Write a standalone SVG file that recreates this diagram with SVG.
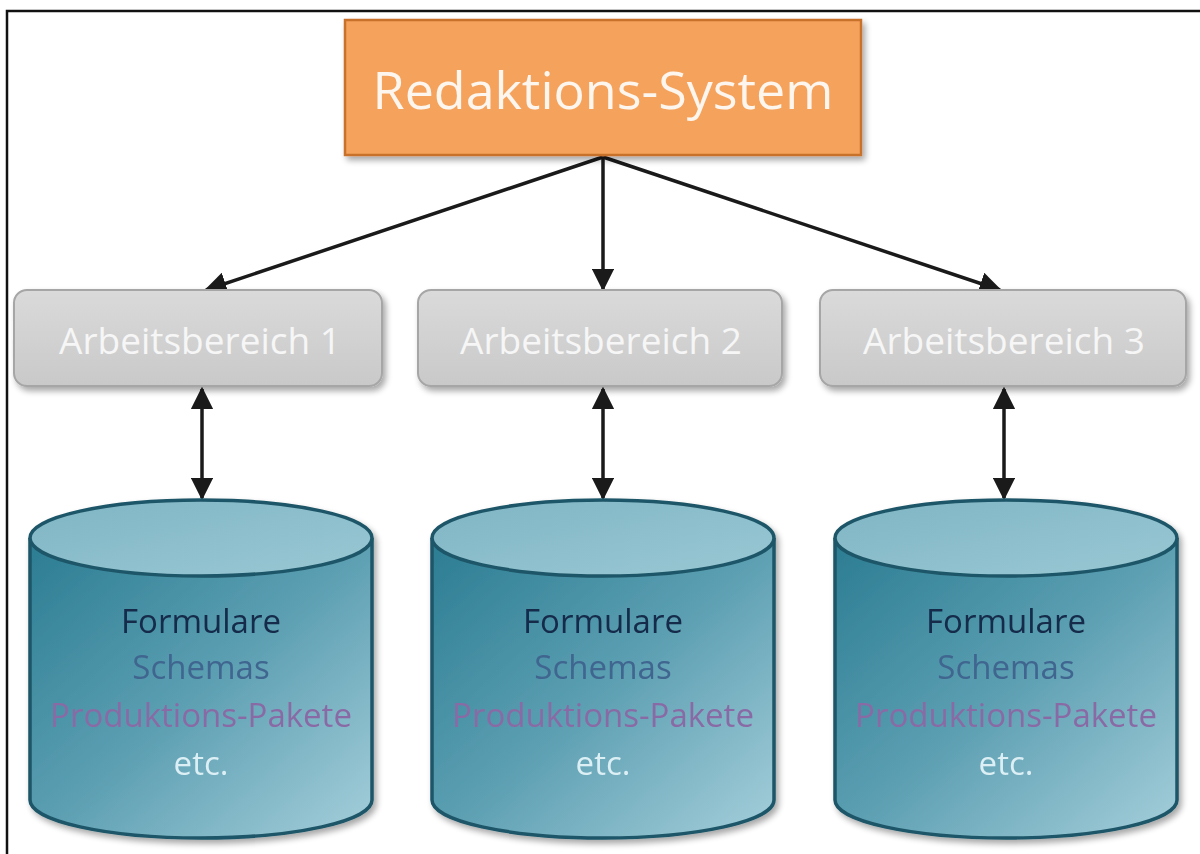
<svg xmlns="http://www.w3.org/2000/svg" width="1200" height="854" viewBox="0 0 1200 854">
<defs>
<style>
.lbl{font-family:"Open Sans","Liberation Sans",sans-serif;text-anchor:middle}
.gbox{fill:url(#gray);stroke:#a6a6a6;stroke-width:2}
.cyl{stroke:#1e5667;stroke-width:3.5}
.con{stroke:#1a1a1a;stroke-width:3.5;fill:none}
.t1{fill:#132a4a;font-size:33px}
.t2{fill:#3f6690;font-size:33px}
.t3{fill:#8a6ba5;font-size:33px}
.t4{fill:#dceff5;font-size:33px}
</style>
<linearGradient id="gray" x1="0" y1="0" x2="0" y2="1">
<stop offset="0" stop-color="#dadada"/><stop offset="1" stop-color="#c9c9c9"/>
</linearGradient>
<linearGradient id="body" x1="0" y1="0" x2="1" y2="1">
<stop offset="0" stop-color="#2b7c92"/><stop offset="0.5" stop-color="#5c9fb2"/><stop offset="1" stop-color="#a6cfdb"/>
</linearGradient>
<linearGradient id="top" x1="0" y1="0" x2="1" y2="1">
<stop offset="0" stop-color="#7fb5c4"/><stop offset="1" stop-color="#9ac8d4"/>
</linearGradient>
<filter id="sh" x="-10%" y="-10%" width="130%" height="140%">
<feGaussianBlur in="SourceAlpha" stdDeviation="3"/>
<feOffset dx="3" dy="4"/>
<feComponentTransfer><feFuncA type="linear" slope="0.35"/></feComponentTransfer>
<feMerge><feMergeNode/><feMergeNode in="SourceGraphic"/></feMerge>
</filter>
<marker id="ahb" viewBox="0 0 10 10" refX="9" refY="5" markerWidth="6.5" markerHeight="6.5" orient="auto-start-reverse">
<path d="M0,0 L10,5 L0,10 z" fill="#1a1a1a"/>
</marker>
</defs>
<rect width="1200" height="854" fill="#ffffff"/>
<path d="M7,854 V11 H1200" fill="none" stroke="#111" stroke-width="2.5"/>

<g id="connectors">
<line class="con" x1="603" y1="157" x2="206" y2="290" marker-end="url(#ahb)"/>
<line class="con" x1="603" y1="157" x2="603" y2="289" marker-end="url(#ahb)"/>
<line class="con" x1="603" y1="157" x2="1000" y2="290" marker-end="url(#ahb)"/>
<line class="con" x1="202" y1="389" x2="202" y2="498" marker-start="url(#ahb)" marker-end="url(#ahb)"/>
<line class="con" x1="603" y1="389" x2="603" y2="498" marker-start="url(#ahb)" marker-end="url(#ahb)"/>
<line class="con" x1="1004" y1="389" x2="1004" y2="498" marker-start="url(#ahb)" marker-end="url(#ahb)"/>
</g>

<g id="redaktions-system">
<rect x="345" y="20" width="516" height="135" fill="#f5a25c" stroke="#c7712c" stroke-width="2.5" filter="url(#sh)"/>
<text class="lbl" x="603" y="109" font-size="52" fill="#fdf6ee">Redaktions-System</text>
</g>

<g id="arbeitsbereich-1">
<rect class="gbox" x="14" y="290" width="368" height="96" rx="13" filter="url(#sh)"/>
<text class="lbl" x="200" y="354" font-size="37" fill="#f6f6f6">Arbeitsbereich 1</text>
</g>
<g id="arbeitsbereich-2">
<rect class="gbox" x="418" y="290" width="364" height="96" rx="13" filter="url(#sh)"/>
<text class="lbl" x="601" y="354" font-size="37" fill="#f6f6f6">Arbeitsbereich 2</text>
</g>
<g id="arbeitsbereich-3">
<rect class="gbox" x="820" y="290" width="366" height="96" rx="13" filter="url(#sh)"/>
<text class="lbl" x="1004" y="354" font-size="37" fill="#f6f6f6">Arbeitsbereich 3</text>
</g>

<g id="db-1" filter="url(#sh)">
<path class="cyl" d="M30,538 V800 A171,38 0 0 0 372,800 V538" fill="url(#body)"/>
<ellipse class="cyl" cx="201" cy="538" rx="171" ry="38" fill="url(#top)"/>
<text class="lbl t1" x="201" y="633">Formulare</text>
<text class="lbl t2" x="201" y="679">Schemas</text>
<text class="lbl t3" x="201" y="727">Produktions-Pakete</text>
<text class="lbl t4" x="201" y="775">etc.</text>
</g>
<g id="db-2" filter="url(#sh)">
<path class="cyl" d="M432,538 V800 A171,38 0 0 0 774,800 V538" fill="url(#body)"/>
<ellipse class="cyl" cx="603" cy="538" rx="171" ry="38" fill="url(#top)"/>
<text class="lbl t1" x="603" y="633">Formulare</text>
<text class="lbl t2" x="603" y="679">Schemas</text>
<text class="lbl t3" x="603" y="727">Produktions-Pakete</text>
<text class="lbl t4" x="603" y="775">etc.</text>
</g>
<g id="db-3" filter="url(#sh)">
<path class="cyl" d="M835,538 V800 A171,38 0 0 0 1177,800 V538" fill="url(#body)"/>
<ellipse class="cyl" cx="1006" cy="538" rx="171" ry="38" fill="url(#top)"/>
<text class="lbl t1" x="1006" y="633">Formulare</text>
<text class="lbl t2" x="1006" y="679">Schemas</text>
<text class="lbl t3" x="1006" y="727">Produktions-Pakete</text>
<text class="lbl t4" x="1006" y="775">etc.</text>
</g>
</svg>
